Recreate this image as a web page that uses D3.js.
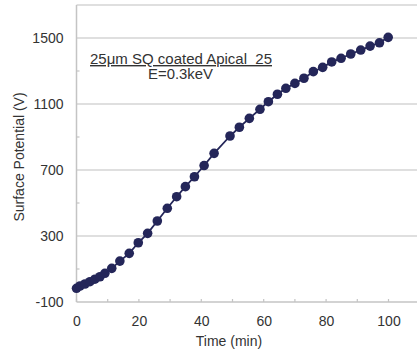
<!DOCTYPE html>
<html><head><meta charset="utf-8">
<script src="https://cdn.jsdelivr.net/npm/d3@7"></script>
<style>body{margin:0;background:#fff}svg{display:block}text{font-family:"Liberation Sans",Arial,sans-serif;fill:#333;white-space:pre}</style>
</head><body><svg id="c" width="417" height="353"></svg>
<script>
const timeMin = [0,1.1,2.7,4.3,5.9,7.5,9.1,11.3,13.9,16.9,19.8,22.8,25.9,29.1,32.1,34.9,37.8,40.9,44.1,49.2,52.2,55.4,58.8,61.5,64.4,67.1,70.0,72.9,75.9,78.9,81.8,84.8,87.9,91.1,94.1,97.1,99.9];
const potential = [-17,-3,9,23,38,53,74,104,148,195,259,316,391,468,538,599,659,727,801,906,959,1013,1068,1114,1159,1195,1225,1256,1296,1322,1355,1377,1403,1427,1451,1471,1504];
const xTicks = [0,20,40,60,80,100];
const xMinorTicks = [10,30,50,70,90];
const yTicks = [-100,300,700,1100,1500];
const yMinorTicks = [100,500,900,1300];
const titleLines = ["25\u03bcm SQ coated Apical  25","E=0.3keV"];
const xTitle = "Time (min)", yTitle = "Surface Potential (V)";

const svg = d3.select("#c");
const x = d3.scaleLinear().domain([0,110]).range([76.5,419.7]);
const y = d3.scaleLinear().domain([-100,1700]).range([302,5]);

svg.append("g").selectAll("line").data(yTicks.slice(1)).join("line")
  .attr("x1",x(0)).attr("x2",417).attr("y1",d=>y(d)).attr("y2",d=>y(d))
  .attr("stroke","#d4d4d4").attr("stroke-width",1.5);
svg.append("line").attr("x1",x(0)).attr("x2",417).attr("y1",y(1700)).attr("y2",y(1700))
  .attr("stroke","#d4d4d4").attr("stroke-width",1.5);

const fmt = d => String(d);
const xAxis = svg.append("g").attr("transform",`translate(0,${y(-100)})`)
  .call(d3.axisBottom(x).tickValues(xTicks).tickSize(0).tickPadding(14).tickFormat(fmt));
xAxis.select(".domain").attr("stroke","#c4c4c4").attr("stroke-width",1.5).attr("d",`M${x(0)},0H417`);
xAxis.selectAll("text").attr("font-size",14).attr("fill","#333");
svg.append("g").selectAll("line").data(xTicks.concat(xMinorTicks)).join("line")
  .attr("x1",d=>x(d)).attr("x2",d=>x(d)).attr("y1",y(-100)).attr("y2",y(-100)-3)
  .attr("stroke","#c4c4c4").attr("stroke-width",1.2);

const yAxis = svg.append("g").attr("transform",`translate(${x(0)},0)`)
  .call(d3.axisLeft(y).tickValues(yTicks).tickSize(0).tickPadding(13).tickFormat(fmt));
yAxis.select(".domain").attr("stroke","#c4c4c4").attr("stroke-width",1.5).attr("d",`M0,${y(1700)}V${y(-100)}`);
yAxis.selectAll("text").attr("font-size",14).attr("fill","#333");
svg.append("g").selectAll("line").data(yMinorTicks).join("line")
  .attr("x1",x(0)).attr("x2",x(0)+3).attr("y1",d=>y(d)).attr("y2",d=>y(d))
  .attr("stroke","#c4c4c4").attr("stroke-width",1.2);

svg.append("text").attr("x",229).attr("y",346).attr("text-anchor","middle").attr("font-size",14).text(xTitle);
svg.append("text").attr("transform","translate(24,157) rotate(-90)").attr("text-anchor","middle").attr("font-size",14).text(yTitle);

svg.append("text").attr("x",90).attr("y",64).attr("font-size",14)
  .attr("textLength",182).attr("lengthAdjust","spacingAndGlyphs")
  .attr("text-decoration","underline").text(titleLines[0]);
svg.append("text").attr("x",148).attr("y",79).attr("font-size",14)
  .attr("textLength",65).attr("lengthAdjust","spacingAndGlyphs").text(titleLines[1]);

const pts = timeMin.map((t,i)=>[t,potential[i]]);
const col = "#242659";
svg.append("path").datum(pts).attr("fill","none").attr("stroke",col).attr("stroke-width",1.8)
  .attr("d",d3.line().x(d=>x(d[0])).y(d=>y(d[1])));
svg.append("g").selectAll("circle").data(pts).join("circle")
  .attr("cx",d=>x(d[0])).attr("cy",d=>y(d[1])).attr("r",4.8).attr("fill",col);
</script></body></html>
